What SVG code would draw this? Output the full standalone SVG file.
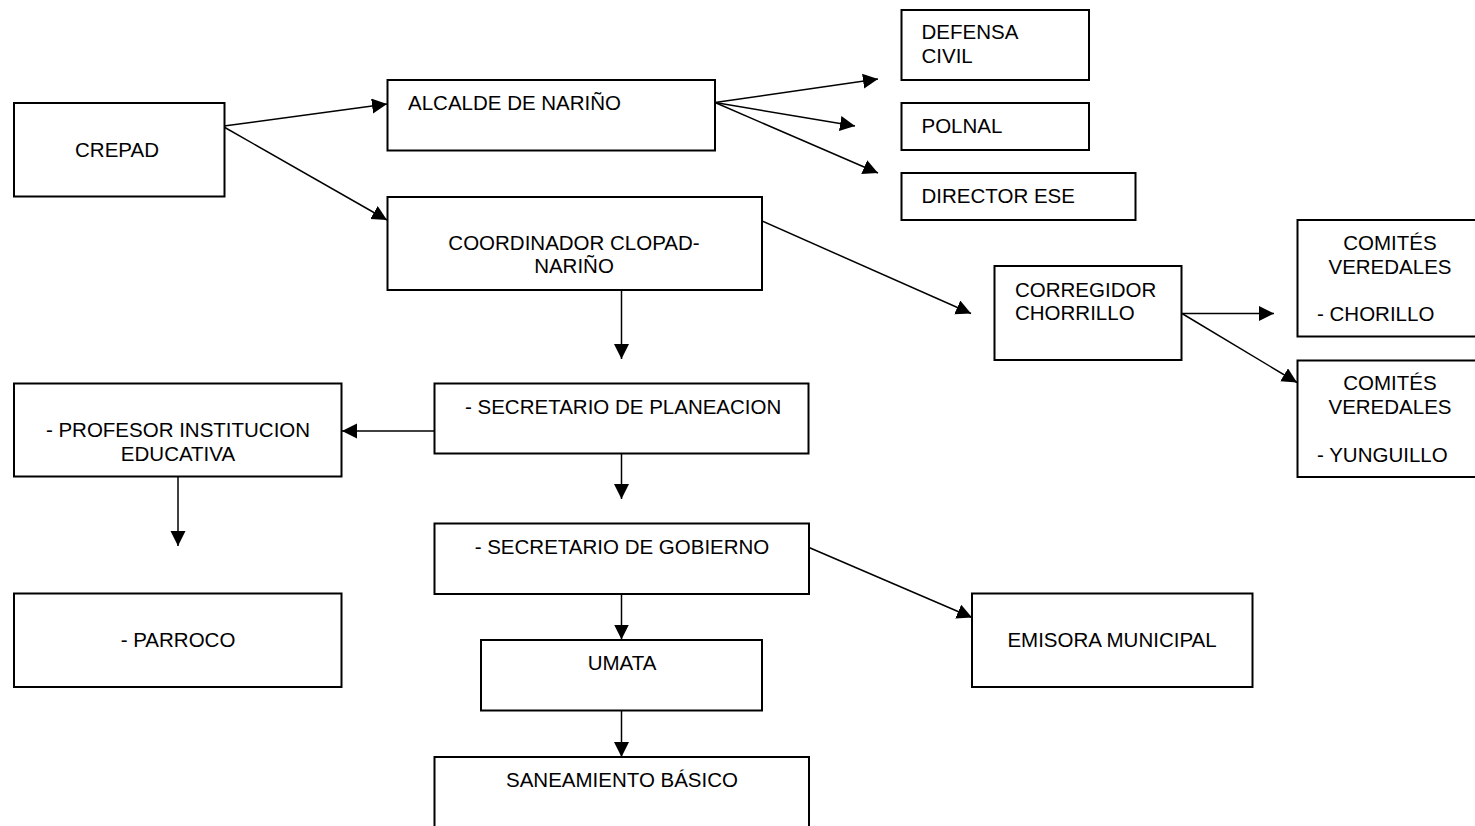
<svg xmlns="http://www.w3.org/2000/svg" width="1475" height="826" viewBox="0 0 1475 826">
<style>
.box{fill:#fff;stroke:#000;stroke-width:2}
.t{font-family:"Liberation Sans",Arial,sans-serif;font-size:20.5px;fill:#000}
.c{text-anchor:middle}
.ln{stroke:#000;stroke-width:1.5;fill:none;marker-end:url(#ah)}
</style>
<defs>
<marker id="ah" markerUnits="userSpaceOnUse" markerWidth="16" markerHeight="16" refX="15" refY="7.5" orient="auto" viewBox="0 0 16 16">
<path d="M0,0 L15,7.5 L0,15 z" fill="#000"/>
</marker>
</defs>
<rect width="1475" height="826" fill="#fff"/>
<g id="connectors">
<line class="ln" x1="224" y1="126" x2="387" y2="104"/>
<line class="ln" x1="224" y1="127" x2="387" y2="220"/>
<line class="ln" x1="715" y1="102.5" x2="878" y2="79"/>
<line class="ln" x1="715" y1="102.5" x2="855" y2="126"/>
<line class="ln" x1="715" y1="102.5" x2="878" y2="173"/>
<line class="ln" x1="762" y1="221" x2="971" y2="313.5"/>
<line class="ln" x1="1182" y1="313.5" x2="1274" y2="313.5"/>
<line class="ln" x1="1182" y1="313.5" x2="1297" y2="382.5"/>
<line class="ln" x1="621.5" y1="290" x2="621.5" y2="359"/>
<line class="ln" x1="434" y1="431" x2="342" y2="431"/>
<line class="ln" x1="178" y1="477" x2="178" y2="546"/>
<line class="ln" x1="621.5" y1="453.5" x2="621.5" y2="499"/>
<line class="ln" x1="809" y1="547.5" x2="972" y2="617.5"/>
<line class="ln" x1="621.5" y1="594" x2="621.5" y2="639.5"/>
<line class="ln" x1="621.5" y1="710.5" x2="621.5" y2="757"/>
</g>
<g id="crepad"><rect class="box" x="14" y="103" width="210.5" height="93.5"/><text class="t c" x="117" y="157">CREPAD</text></g>
<g id="alcalde"><rect class="box" x="387.5" y="80" width="327.5" height="70.5"/><text class="t" x="408" y="110">ALCALDE DE NARIÑO</text></g>
<g id="coordinador"><rect class="box" x="387.5" y="197" width="374.5" height="93"/><text class="t c" x="574" y="250">COORDINADOR CLOPAD-</text><text class="t c" x="574" y="273">NARIÑO</text></g>
<g id="defensa"><rect class="box" x="901.5" y="10" width="187.5" height="70"/><text class="t" x="921.5" y="39">DEFENSA</text><text class="t" x="921.5" y="63">CIVIL</text></g>
<g id="polnal"><rect class="box" x="901.5" y="103" width="187.5" height="47"/><text class="t" x="921.5" y="133">POLNAL</text></g>
<g id="director"><rect class="box" x="901.5" y="173" width="234" height="47"/><text class="t" x="921.5" y="203">DIRECTOR ESE</text></g>
<g id="corregidor"><rect class="box" x="994.5" y="266" width="187" height="94"/><text class="t" x="1015" y="296.5">CORREGIDOR</text><text class="t" x="1015" y="320">CHORRILLO</text></g>
<g id="comites-chorillo"><rect class="box" x="1297.5" y="220" width="190" height="116.5"/><text class="t c" x="1390" y="250">COMITÉS</text><text class="t c" x="1390" y="274">VEREDALES</text><text class="t" x="1317" y="320.5">- CHORILLO</text></g>
<g id="comites-yunguillo"><rect class="box" x="1297.5" y="360.5" width="190" height="116.5"/><text class="t c" x="1390" y="390">COMITÉS</text><text class="t c" x="1390" y="413.5">VEREDALES</text><text class="t" x="1317" y="461.5">- YUNGUILLO</text></g>
<g id="planeacion"><rect class="box" x="434.5" y="383.5" width="374" height="70"/><text class="t" x="465" y="414">- SECRETARIO DE PLANEACION</text></g>
<g id="profesor"><rect class="box" x="14" y="383.5" width="327.5" height="93"/><text class="t c" x="178" y="436.5">- PROFESOR INSTITUCION</text><text class="t c" x="178" y="460.5">EDUCATIVA</text></g>
<g id="parroco"><rect class="box" x="14" y="593.5" width="327.5" height="93.5"/><text class="t c" x="178" y="646.5">- PARROCO</text></g>
<g id="gobierno"><rect class="box" x="434.5" y="523.5" width="374.5" height="70.5"/><text class="t c" x="622" y="554">- SECRETARIO DE GOBIERNO</text></g>
<g id="emisora"><rect class="box" x="972" y="593.5" width="280.5" height="93.5"/><text class="t c" x="1112" y="647">EMISORA MUNICIPAL</text></g>
<g id="umata"><rect class="box" x="481" y="640" width="281" height="70.5"/><text class="t c" x="622" y="670">UMATA</text></g>
<g id="saneamiento"><rect class="box" x="434.5" y="757" width="374.5" height="80"/><text class="t c" x="622" y="787">SANEAMIENTO BÁSICO</text></g>
</svg>
